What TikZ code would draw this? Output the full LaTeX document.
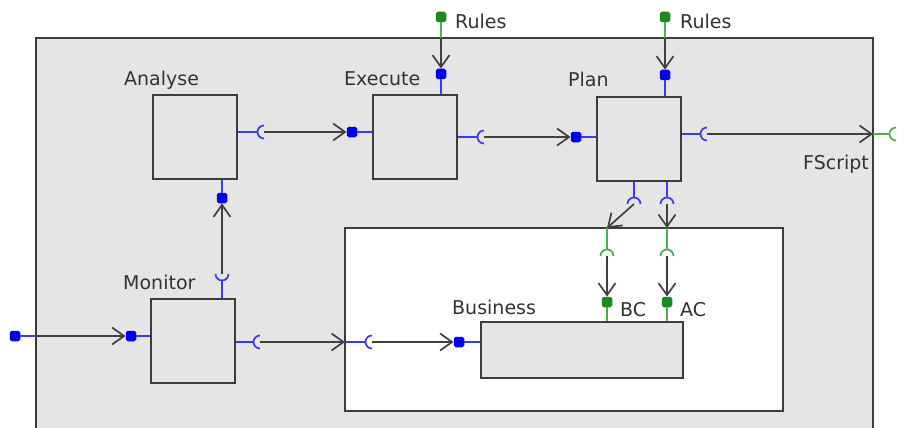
\documentclass[tikz,border=0pt]{standalone}
\usepackage{fontspec}
\setmainfont{DejaVu Sans}
\usetikzlibrary{arrows.meta,calc}

\definecolor{boxfill}{HTML}{E5E5E5}
\definecolor{boxline}{HTML}{3C3C3C}
\definecolor{flowgray}{HTML}{404040}
\definecolor{portblue}{HTML}{0000F0}
\definecolor{wireblue}{HTML}{3A3AF5}
\definecolor{portgreen}{HTML}{1F8A1F}
\definecolor{wiregreen}{HTML}{4CAF50}
\definecolor{txt}{HTML}{333333}

\tikzset{
  frame/.style={draw=boxline, line width=1.6pt, fill=boxfill},
  box/.style={draw=boxline, line width=1.5pt, fill=boxfill, inner sep=0pt,
              minimum width=84pt, minimum height=84pt},
  hold/.style={draw=boxline, line width=1.5pt, fill=white, inner sep=0pt},
  bport/.style={rectangle, fill=portblue, rounded corners=1.8pt, inner sep=0pt,
                minimum size=10.5pt},
  gport/.style={bport, fill=portgreen},
  bwire/.style={draw=wireblue, line width=1.3pt},
  gwire/.style={draw=wiregreen, line width=1.3pt},
  sock/.style={line width=1.7pt},
  flow/.style={draw=flowgray, line width=1.7pt,
               -{Straight Barb[length=12pt,width=17pt,line width=1.7pt]}},
  lbl/.style={anchor=base west, inner sep=0pt, text=txt,
              font=\fontsize{19}{21}\selectfont},
}

\begin{document}
\begin{tikzpicture}[x=1pt,y=-1pt]
\useasboundingbox (0,0) rectangle (897,428);
\fill[white] (0,0) rectangle (897,428);

% component frame
\draw[frame] (36,38) rectangle (873,445);

% blocks
\node[hold, minimum width=438pt, minimum height=183pt] (env) at (564,319.5) {};
\node[box] (analyse) at (195,137) {};
\node[box] (execute) at (415,137) {};
\node[box] (plan)    at (639,139) {};
\node[box] (monitor) at (193,341) {};
\node[box, minimum width=202pt, minimum height=56pt] (business) at (582,350) {};

% labels
\node[lbl] (t-an) at (124,85)  {Analyse};
\node[lbl] (t-ex) at (344,85)  {Execute};
\node[lbl] (t-pl) at (568,86)  {Plan};
\node[lbl] (t-mo) at (123,289) {Monitor};
\node[lbl] (t-bu) at (452,314) {Business};
\node[lbl] (t-r1) at (455,29)  {Rules};
\node[lbl] (t-r2) at (680,29)  {Rules};
\node[lbl] (t-bc) at (620,316) {BC};
\node[lbl] (t-ac) at (680,316) {AC};
\node[lbl] (t-fs) at (803,169) {FScript};

% socket centres
\coordinate (sA)  at (264,132);
\coordinate (sE)  at (484,137);
\coordinate (sP)  at (707,134);
\coordinate (sF)  at (896,134);
\coordinate (sM)  at (260,342);
\coordinate (sW)  at (372,342);
\coordinate (sMt) at (222,274);
\coordinate (sPl) at (634,204);
\coordinate (sPr) at (667,204);
\coordinate (sBC) at (607,256);
\coordinate (sAC) at (667,256);

% boundary points
\coordinate (eR) at (441,38);
\coordinate (pR) at (665,38);
\coordinate (fOut) at (873,134);
\coordinate (mL) at (36,336);
\coordinate (wL) at (345,342);
\coordinate (dL) at (607,228);
\coordinate (dR) at (667,228);

% square ports
\node[bport] (exIn)  at (352,132) {};
\node[bport] (exTop) at (441,74)  {};
\node[bport] (plIn)  at (576,137) {};
\node[bport] (plTop) at (665,75)  {};
\node[bport] (anBot) at (222,198) {};
\node[bport] (moIn)  at (131,336) {};
\node[bport] (moExt) at (15,336)  {};
\node[bport] (buIn)  at (459,342) {};
\node[gport] (exRule) at (441,17) {};
\node[gport] (plRule) at (665,17) {};
\node[gport] (bc) at (607,302) {};
\node[gport] (ac) at (667,302) {};

% blue wires
\draw[bwire] (analyse.east |- sA) -- ($(sA)+(-6.5,0)$);
\draw[bwire] (exIn) -- (execute.west |- exIn);
\draw[bwire] (execute.east |- sE) -- ($(sE)+(-6.5,0)$);
\draw[bwire] (plIn) -- (plan.west |- plIn);
\draw[bwire] (plan.east |- sP) -- ($(sP)+(-6.5,0)$);
\draw[bwire] (exTop) -- (exTop |- execute.north);
\draw[bwire] (plTop) -- (plTop |- plan.north);
\draw[bwire] (sPl |- plan.south) -- ($(sPl)+(0,-6.5)$);
\draw[bwire] (sPr |- plan.south) -- ($(sPr)+(0,-6.5)$);
\draw[bwire] (moExt) -- (mL);
\draw[bwire] (moIn) -- (monitor.west |- moIn);
\draw[bwire] (monitor.east |- sM) -- ($(sM)+(-6.5,0)$);
\draw[bwire] (wL) -- ($(sW)+(-6.5,0)$);
\draw[bwire] (buIn) -- (business.west |- buIn);
\draw[bwire] (sMt |- monitor.north) -- ($(sMt)+(0,6.5)$);
\draw[bwire] (anBot) -- (anBot |- analyse.south);

% green wires
\draw[gwire] (exRule) -- (eR);
\draw[gwire] (plRule) -- (pR);
\draw[gwire] (fOut) -- ($(sF)+(-6.5,0)$);
\draw[gwire] (dL) -- ($(sBC)+(0,-6.5)$);
\draw[gwire] (dR) -- ($(sAC)+(0,-6.5)$);
\draw[gwire] (bc) -- (bc |- business.north);
\draw[gwire] (ac) -- (ac |- business.north);

% sockets (arc on the side facing the wire)
\foreach \s in {sA,sE,sP,sM,sW}
  \draw[bwire, sock] (\s) ++(90:6.5) arc[start angle=90, end angle=270, radius=6.5];
\draw[gwire, sock] (sF) ++(90:6.5) arc[start angle=90, end angle=270, radius=6.5];
\foreach \s in {sPl,sPr}
  \draw[bwire, sock] (\s) ++(180:6.5) arc[start angle=180, end angle=360, radius=6.5];
\foreach \s in {sBC,sAC}
  \draw[gwire, sock] (\s) ++(180:6.5) arc[start angle=180, end angle=360, radius=6.5];
\draw[bwire, sock] (sMt) ++(0:6.5) arc[start angle=0, end angle=180, radius=6.5];

% flows
\draw[flow] (sA) -- (exIn);
\draw[flow] (sE) -- (plIn);
\draw[flow] (sP) -- (fOut);
\draw[flow] (eR) -- (exTop);
\draw[flow] (pR) -- (plTop);
\draw[flow] (sPl) -- (dL);
\draw[flow] (sPr) -- (dR);
\draw[flow] (sBC) -- (bc);
\draw[flow] (sAC) -- (ac);
\draw[flow] (mL) -- (moIn);
\draw[flow] (sM) -- (wL);
\draw[flow] (sW) -- (buIn);
\draw[flow] (sMt) -- (anBot);
\end{tikzpicture}
\end{document}
